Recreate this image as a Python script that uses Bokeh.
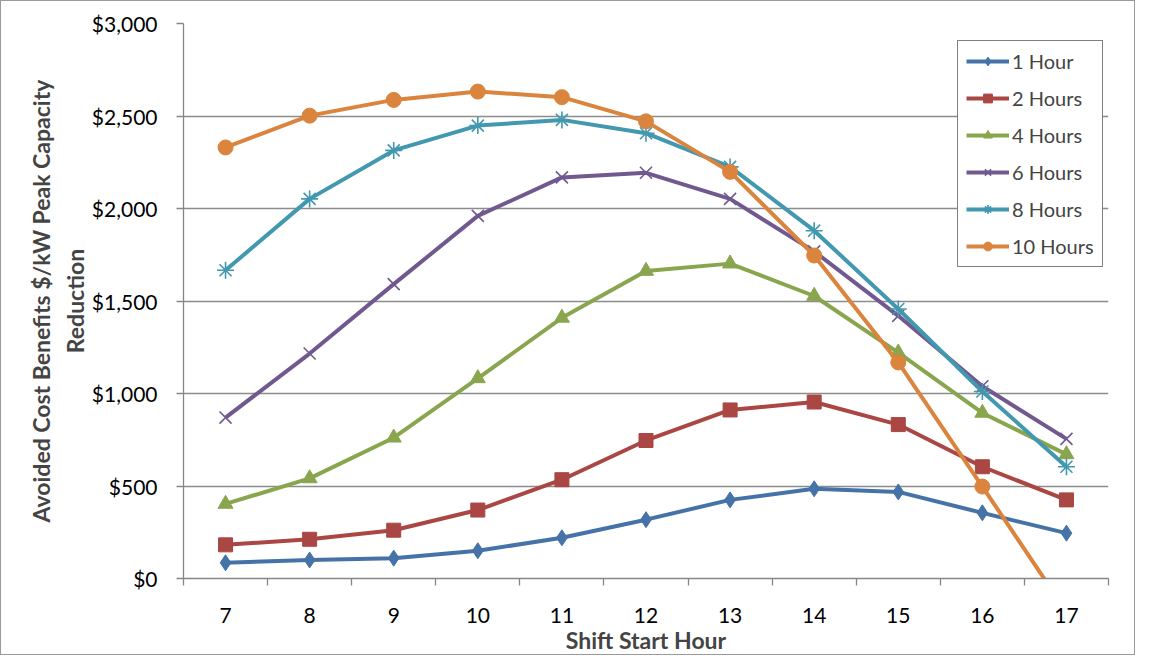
from bokeh.plotting import figure
from bokeh.models import Range1d, FixedTicker, NumeralTickFormatter, Legend, LegendItem
from bokeh.embed import file_html
from bokeh.resources import INLINE

hours = [7, 8, 9, 10, 11, 12, 13, 14, 15, 16, 17]
h1 = [85, 100, 110, 150, 220, 318, 425, 485, 468, 355, 245]
h2 = [182, 212, 261, 370, 534, 746, 911, 954, 832, 604, 425]
h4 = [403, 541, 761, 1082, 1409, 1662, 1702, 1527, 1221, 895, 671]
h6 = [870, 1216, 1591, 1960, 2168, 2193, 2052, 1768, 1420, 1039, 755]
h8 = [1666, 2052, 2314, 2448, 2479, 2407, 2225, 1880, 1457, 1011, 604]
h10 = [2330, 2502, 2587, 2632, 2602, 2471, 2198, 1746, 1168, 497, -180]

series_names = ["1 Hour", "2 Hours", "4 Hours", "6 Hours", "8 Hours", "10 Hours"]
series_vals = [h1, h2, h4, h6, h8, h10]
colors = ["#4572A7", "#AA4643", "#89A54E", "#71588F", "#4198AF", "#DB843D"]
markers = ["diamond", "square", "triangle", "x", "asterisk", "circle"]
sizes = [16, 14, 15, 17, 17, 15]

FONT = "Lato"

p = figure(width=1135, height=655, output_backend="svg", toolbar_location=None,
           x_range=Range1d(6.5, 17.5), y_range=Range1d(0, 3000),
           min_border_left=182, min_border_right=28, min_border_top=22, min_border_bottom=77,
           styles={"border": "1px solid #9a9a9a"})
p.outline_line_color = None
p.background_fill_color = "white"

# grid
p.xgrid.grid_line_color = None
p.ygrid.grid_line_color = "#8c8c8c"
p.ygrid.grid_line_width = 1.3

# x axis (category-style: ticks between hours)
p.xaxis.ticker = FixedTicker(ticks=hours, minor_ticks=[h - 0.5 for h in hours] + [17.5])
p.xaxis.major_tick_line_color = None
p.xaxis.major_tick_out = 0
p.xaxis.major_tick_in = 0
p.xaxis.minor_tick_line_color = "#868686"
p.xaxis.minor_tick_line_width = 1.3
p.xaxis.minor_tick_out = 7
p.xaxis.minor_tick_in = 0
p.xaxis.axis_line_color = "#868686"
p.xaxis.axis_line_width = 1.3
p.xaxis.major_label_standoff = 22
p.xaxis.major_label_text_font = FONT
p.xaxis.major_label_text_font_size = "21px"
p.xaxis.major_label_text_color = "black"
p.xaxis.axis_label = "Shift Start Hour"
p.xaxis.axis_label_text_font = FONT
p.xaxis.axis_label_text_font_style = "bold"
p.xaxis.axis_label_text_font_size = "23px"
p.xaxis.axis_label_standoff = 0

# y axis
p.yaxis.ticker = FixedTicker(ticks=[0, 500, 1000, 1500, 2000, 2500, 3000])
p.yaxis.formatter = NumeralTickFormatter(format="$0,0")
p.yaxis.minor_tick_line_color = None
p.yaxis.major_tick_line_color = "#868686"
p.yaxis.major_tick_line_width = 1.3
p.yaxis.major_tick_out = 7
p.yaxis.major_tick_in = 0
p.yaxis.axis_line_color = "#868686"
p.yaxis.axis_line_width = 1.3
p.yaxis.major_label_standoff = 19
p.yaxis.major_label_text_font = FONT
p.yaxis.major_label_text_font_size = "21px"
p.yaxis.major_label_text_color = "black"
p.yaxis.axis_label = "Avoided Cost Benefits $/kW Peak Capacity\nReduction"
p.yaxis.axis_label_text_font = FONT
p.yaxis.axis_label_text_font_style = "bold"
p.yaxis.axis_label_text_font_size = "23px"
p.yaxis.axis_label_standoff = 0

items = []
for name, vals, c, m, s in zip(series_names, series_vals, colors, markers, sizes):
    r1 = p.line(hours, vals, line_color=c, line_width=4)
    r2 = p.scatter(hours, vals, marker=m, size=s, fill_color=c, line_color=c,
                   line_width=1.6 if m in ("x", "asterisk") else 1)
    items.append(LegendItem(label=name, renderers=[r1, r2]))

legend = Legend(items=items, location=(774, 311))
legend.border_line_color = "black"
legend.border_line_width = 1
legend.label_text_font = FONT
legend.label_text_font_size = "20px"
legend.glyph_width = 43
legend.glyph_height = 22
legend.label_height = 22
legend.spacing = 13
legend.padding = 8
legend.margin = 0
legend.label_standoff = 3
legend.background_fill_alpha = 1
p.add_layout(legend, "center")

open("out.html", "w").write(file_html(p, INLINE))
